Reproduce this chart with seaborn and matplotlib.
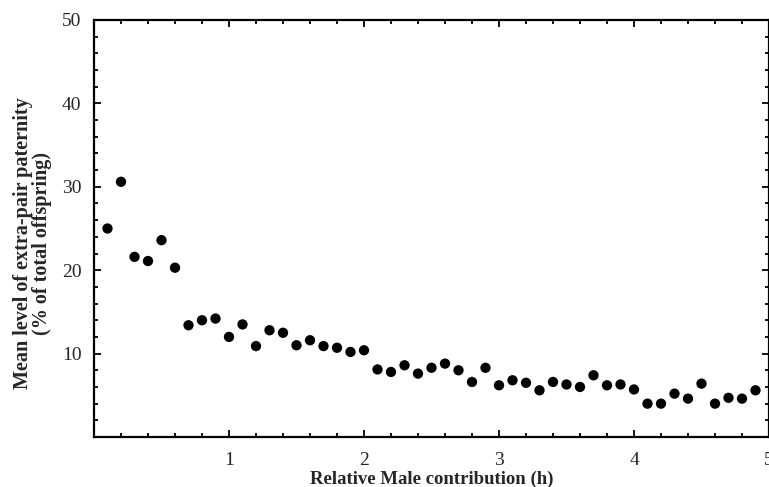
import matplotlib
matplotlib.use("Agg")
import matplotlib.pyplot as plt
from matplotlib.ticker import MultipleLocator
import seaborn as sns
import pandas as pd

male_contribution = [0.1, 0.2, 0.3, 0.4, 0.5, 0.6, 0.7, 0.8, 0.9, 1.0,
                     1.1, 1.2, 1.3, 1.4, 1.5, 1.6, 1.7, 1.8, 1.9, 2.0,
                     2.1, 2.2, 2.3, 2.4, 2.5, 2.6, 2.7, 2.8, 2.9, 3.0,
                     3.1, 3.2, 3.3, 3.4, 3.5, 3.6, 3.7, 3.8, 3.9, 4.0,
                     4.1, 4.2, 4.3, 4.4, 4.5, 4.6, 4.7, 4.8, 4.9]
epp_level = [25.0, 30.6, 21.6, 21.1, 23.6, 20.3, 13.4, 14.0, 14.2, 12.0,
             13.5, 10.9, 12.8, 12.5, 11.0, 11.6, 10.9, 10.7, 10.2, 10.4,
             8.1, 7.8, 8.6, 7.6, 8.3, 8.8, 8.0, 6.6, 8.3, 6.2,
             6.8, 6.5, 5.6, 6.6, 6.3, 6.0, 7.4, 6.2, 6.3, 5.7,
             4.0, 4.0, 5.2, 4.6, 6.4, 4.0, 4.7, 4.6, 5.6]
x_ticks = [1, 2, 3, 4, 5]
y_ticks = [10, 20, 30, 40, 50]

sns.set_style("ticks")
plt.rcParams['font.family'] = ['Liberation Serif', 'DejaVu Serif']

df = pd.DataFrame({"h": male_contribution, "epp": epp_level})

fig = plt.figure(figsize=(7.69, 4.87), dpi=100)
ax = fig.add_axes([94/769, 50/487, 675/769, 417/487])
sns.scatterplot(data=df, x="h", y="epp", ax=ax, color="black", s=55,
                edgecolor="none", legend=False)

ax.set_xlim(0, 5)
ax.set_ylim(0, 50)
ax.set_xticks(x_ticks)
ax.set_xticklabels([str(t) for t in x_ticks])
ax.set_yticks(y_ticks)
ax.set_yticklabels([str(t) for t in y_ticks])
ax.xaxis.set_minor_locator(MultipleLocator(0.2))
ax.yaxis.set_minor_locator(MultipleLocator(2))

for s in ax.spines.values():
    s.set_visible(True)
    s.set_linewidth(1.6)
    s.set_color("black")

ax.tick_params(which="both", direction="in", top=True, right=True,
               color="black", width=1.3)
ax.tick_params(which="major", length=5, labelsize=14, pad=9)
ax.tick_params(which="minor", length=3)
ax.tick_params(axis="x", which="major", pad=11)

ax.set_xlabel("Relative Male contribution (h)", fontsize=13.5,
              fontweight="bold", labelpad=1)
ax.set_ylabel("Mean level of extra-pair paternity\n(% of total offspring)",
              fontsize=14.5, fontweight="bold", linespacing=0.9)
ax.yaxis.set_label_coords(-0.080 + 12/675, 0.465)

fig.savefig("out.png", dpi=100)
